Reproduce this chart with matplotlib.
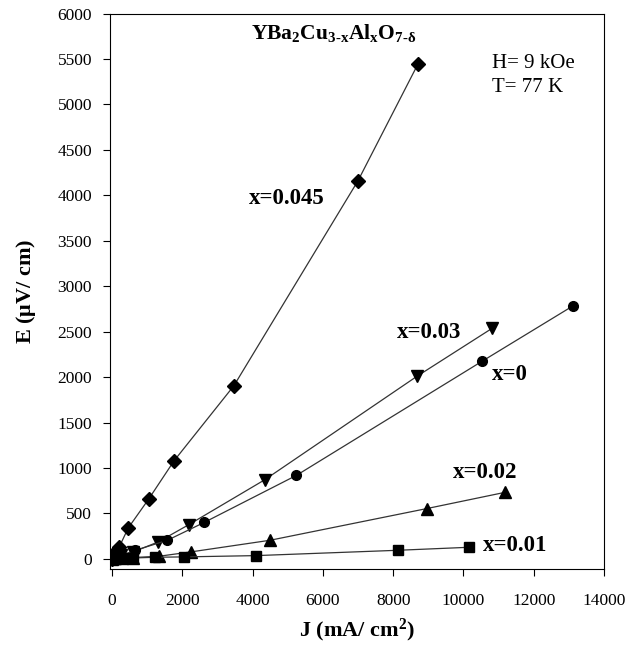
import matplotlib
matplotlib.use("Agg")
import matplotlib.pyplot as plt

plt.rcParams['font.family'] = ['Liberation Serif', 'DejaVu Serif']
plt.rcParams['mathtext.fontset'] = 'custom'
plt.rcParams['mathtext.rm'] = 'Liberation Serif'
plt.rcParams['mathtext.it'] = 'Liberation Serif:italic'
plt.rcParams['mathtext.bf'] = 'Liberation Serif:bold'

# J (mA/cm^2) and E (uV/cm)
j_0045 = [0, 60, 210, 465, 1050, 1770, 3470, 7000, 8700]
e_0045 = [0, 60, 132, 340, 660, 1080, 1905, 4160, 5440]

j_003 = [0, 100, 250, 610, 1320, 2190, 4350, 8670, 10820]
e_003 = [0, 20, 40, 77, 187, 377, 871, 2007, 2538]

j_0 = [0, 100, 250, 670, 1580, 2630, 5250, 10520, 13130]
e_0 = [0, 15, 35, 95, 205, 402, 919, 2172, 2787]

j_002 = [0, 100, 300, 600, 1340, 2250, 4500, 8950, 11180]
e_002 = [0, 5, 10, 15, 29, 77, 205, 553, 732]

j_001 = [0, 100, 300, 600, 1240, 2060, 4090, 8150, 10170]
e_001 = [0, 3, 6, 10, 18, 22, 36, 95, 128]

series = [
    (j_0045, e_0045, 'D', 7),
    (j_003, e_003, 'v', 8),
    (j_0, e_0, 'o', 7),
    (j_002, e_002, '^', 8),
    (j_001, e_001, 's', 7),
]

fig = plt.figure(figsize=(6.44, 6.45), dpi=100)
ax = fig.add_axes([0.171, 0.118, 0.767, 0.861])

for j, e, m, ms in series:
    ax.plot(j, e, color='#333333', lw=0.9, marker=m, ms=ms,
            markerfacecolor='black', markeredgecolor='black')

ax.set_xlim(-50, 14000)
ax.set_ylim(-110, 6000)
ax.set_xticks(range(0, 14001, 2000))
ax.set_yticks(range(0, 6001, 500))
ax.tick_params(direction='out', length=5, labelsize=12.5, pad=8)
ax.tick_params(axis='x', pad=12)

ax.set_xlabel(r'J (mA/ cm$^\mathbf{2}$)', fontsize=16, fontweight='bold', labelpad=6)
ax.set_ylabel(r'E ($\mathbf{\mu}$V/ cm)', fontsize=16, fontweight='bold', labelpad=14)

ax.text(0.453, 0.965, r'$\mathbf{YBa_2Cu_{3\text{-}x}Al_xO_{7\text{-}\delta}}$',
        transform=ax.transAxes, ha='center', va='center', fontsize=15.5)
ax.text(0.773, 0.91, 'H= 9 kOe', transform=ax.transAxes, fontsize=15, va='center')
ax.text(0.773, 0.866, 'T= 77 K', transform=ax.transAxes, fontsize=15, va='center')

lab = dict(fontsize=16.5, fontweight='bold', ha='left', va='center')
ax.text(3900, 3970, 'x=0.045', **lab)
ax.text(8100, 2487, 'x=0.03', **lab)
ax.text(10800, 2025, 'x=0', **lab)
ax.text(9700, 950, 'x=0.02', **lab)
ax.text(10550, 145, 'x=0.01', **lab)

fig.savefig('out.png', dpi=100)
